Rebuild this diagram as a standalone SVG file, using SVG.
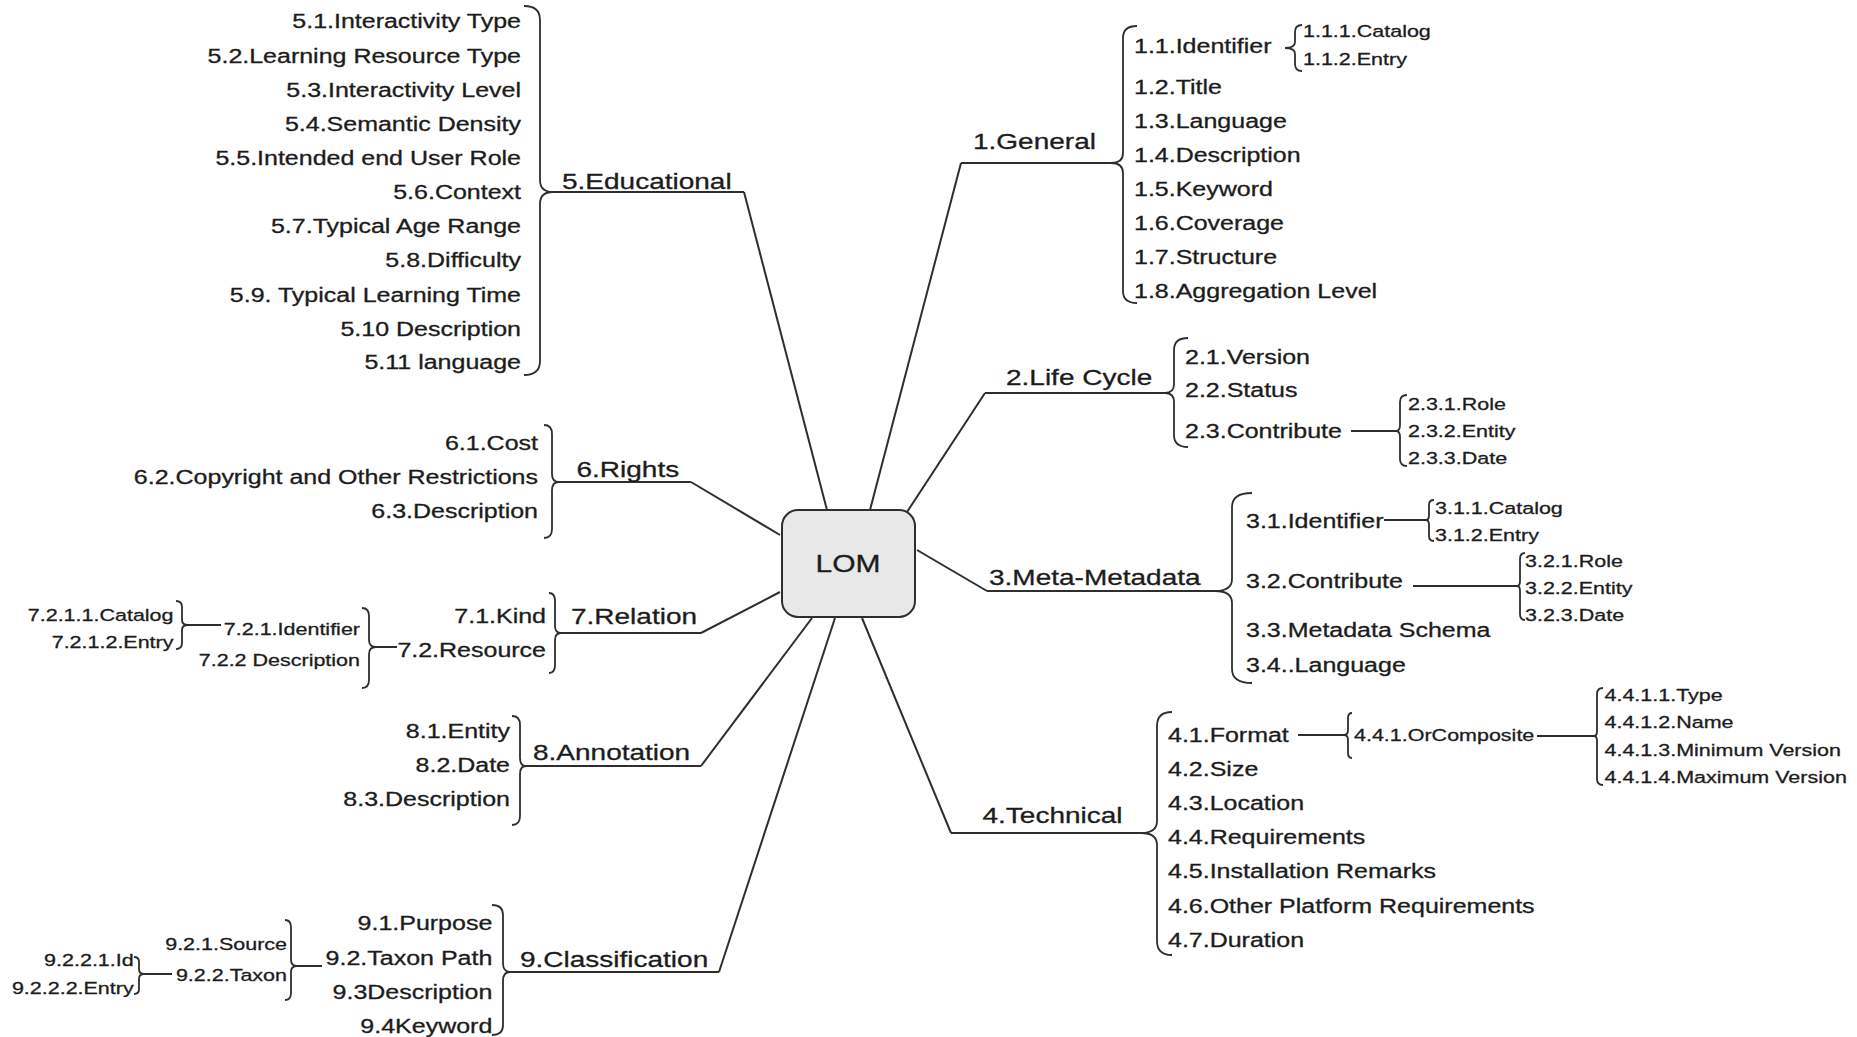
<svg xmlns="http://www.w3.org/2000/svg" width="1857" height="1037" viewBox="0 0 1857 1037">
<style>
text{font-family:"Liberation Sans",Arial,sans-serif;fill:#1c1c1c;stroke:#1c1c1c;stroke-width:0.3px}
.c{font-size:22.4px}
.m{font-size:20px}
.s{font-size:17.2px}
.e{text-anchor:end}
.ln{fill:none;stroke:#2e2e2e;stroke-width:2}
.br{fill:none;stroke:#2e2e2e;stroke-width:1.8}
</style>
<rect width="1857" height="1037" fill="#fff"/>
<g id="connectors" class="ln">
<path d="M744 192 L827 510"/><path d="M553 192 H744"/>
<path d="M961 163 L870 510"/><path d="M961 163 H1111"/>
<path d="M985 393 L907 512"/><path d="M985 393 H1165"/>
<path d="M917 550 L987 591"/><path d="M987 591 H1215"/>
<path d="M862 618 L951 833"/><path d="M951 833 H1141"/>
<path d="M691 482 L780 535"/><path d="M559 482 H691"/>
<path d="M701 633 L780 592"/><path d="M561 633 H701"/>
<path d="M701 766 L812 618"/><path d="M526 766 H701"/>
<path d="M719 972 L835 618"/><path d="M510 972 H719"/>
<path d="M1351 431 H1396"/>
<path d="M1384 520 H1426"/>
<path d="M1413 586 H1517"/>
<path d="M1298 735 H1344"/>
<path d="M1537 736 H1594"/>
<path d="M376 647 H397"/>
<path d="M188 625 H221"/>
<path d="M297 966 H322"/>
<path d="M144 974 H172"/>
</g>
<g id="lom">
<rect x="782" y="510" width="133" height="107" rx="16" fill="#e8e8e8" stroke="#2e2e2e" stroke-width="2"/>
<text style="font-size:24px;text-anchor:middle" transform="matrix(1.25 0 0 1 848 572)">LOM</text>
</g>
<g id="general">
<text class="c" transform="matrix(1.25 0 0 1 973 149)">1.General</text>
<path class="br" d="M1137 26 Q1123 26 1123 38 L1123 153 Q1123 163 1111 163 Q1123 163 1123 173 L1123 291 Q1123 303 1137 303"/>
<text class="m" transform="matrix(1.25 0 0 1 1134 53)">1.1.Identifier</text>
<text class="m" transform="matrix(1.25 0 0 1 1134 94)">1.2.Title</text>
<text class="m" transform="matrix(1.25 0 0 1 1134 128)">1.3.Language</text>
<text class="m" transform="matrix(1.25 0 0 1 1134 162)">1.4.Description</text>
<text class="m" transform="matrix(1.25 0 0 1 1134 196)">1.5.Keyword</text>
<text class="m" transform="matrix(1.25 0 0 1 1134 230)">1.6.Coverage</text>
<text class="m" transform="matrix(1.25 0 0 1 1134 264)">1.7.Structure</text>
<text class="m" transform="matrix(1.25 0 0 1 1134 298)">1.8.Aggregation Level</text>
<path class="br" d="M1302 25 Q1295 25 1295 32 L1295 42 Q1295 48 1285 48 Q1295 48 1295 54 L1295 64 Q1295 71 1302 71"/>
<text class="s" transform="matrix(1.25 0 0 1 1303 37)">1.1.1.Catalog</text>
<text class="s" transform="matrix(1.25 0 0 1 1303 65)">1.1.2.Entry</text>
</g>
<g id="lifecycle">
<text class="c" transform="matrix(1.25 0 0 1 1006 385)">2.Life Cycle</text>
<path class="br" d="M1188 338 Q1174 338 1174 350 L1174 384 Q1174 393 1165 393 Q1174 393 1174 402 L1174 435 Q1174 447 1188 447"/>
<text class="m" transform="matrix(1.25 0 0 1 1185 363.5)">2.1.Version</text>
<text class="m" transform="matrix(1.25 0 0 1 1185 396.7)">2.2.Status</text>
<text class="m" transform="matrix(1.25 0 0 1 1185 438.3)">2.3.Contribute</text>
<path class="br" d="M1407 395 Q1400 395 1400 402 L1400 425 Q1400 431 1396 431 Q1400 431 1400 437 L1400 459 Q1400 466 1407 466"/>
<text class="s" transform="matrix(1.25 0 0 1 1408 410)">2.3.1.Role</text>
<text class="s" transform="matrix(1.25 0 0 1 1408 437.3)">2.3.2.Entity</text>
<text class="s" transform="matrix(1.25 0 0 1 1408 464.3)">2.3.3.Date</text>
</g>
<g id="metametadata">
<text class="c" transform="matrix(1.25 0 0 1 989 585)">3.Meta-Metadata</text>
<path class="br" d="M1252 493 Q1232 493 1232 507 L1232 579 Q1232 591 1215 591 Q1232 591 1232 603 L1232 669 Q1232 683 1252 683"/>
<text class="m" transform="matrix(1.25 0 0 1 1246 528.3)">3.1.Identifier</text>
<text class="m" transform="matrix(1.25 0 0 1 1246 588)">3.2.Contribute</text>
<text class="m" transform="matrix(1.25 0 0 1 1246 637.3)">3.3.Metadata Schema</text>
<text class="m" transform="matrix(1.25 0 0 1 1246 671.7)">3.4..Language</text>
<path class="br" d="M1434 500 Q1429 500 1429 505 L1429 515 Q1429 520 1426 520 Q1429 520 1429 525 L1429 536 Q1429 541 1434 541"/>
<text class="s" transform="matrix(1.25 0 0 1 1435 514)">3.1.1.Catalog</text>
<text class="s" transform="matrix(1.25 0 0 1 1435 540.7)">3.1.2.Entry</text>
<path class="br" d="M1525 553 Q1520 553 1520 559 L1520 581 Q1520 586 1517 586 Q1520 586 1520 591 L1520 614 Q1520 620 1525 620"/>
<text class="s" transform="matrix(1.25 0 0 1 1525 566.7)">3.2.1.Role</text>
<text class="s" transform="matrix(1.25 0 0 1 1525 594)">3.2.2.Entity</text>
<text class="s" transform="matrix(1.25 0 0 1 1525 620.7)">3.2.3.Date</text>
</g>
<g id="technical">
<text class="c" transform="matrix(1.25 0 0 1 982.5 823)">4.Technical</text>
<path class="br" d="M1172 712 Q1157 712 1157 726 L1157 821 Q1157 833 1141 833 Q1157 833 1157 845 L1157 941 Q1157 955 1172 955"/>
<text class="m" transform="matrix(1.25 0 0 1 1168 741.7)">4.1.Format</text>
<text class="m" transform="matrix(1.25 0 0 1 1168 776)">4.2.Size</text>
<text class="m" transform="matrix(1.25 0 0 1 1168 810)">4.3.Location</text>
<text class="m" transform="matrix(1.25 0 0 1 1168 844)">4.4.Requirements</text>
<text class="m" transform="matrix(1.25 0 0 1 1168 878.3)">4.5.Installation Remarks</text>
<text class="m" transform="matrix(1.25 0 0 1 1168 912.7)">4.6.Other Platform Requirements</text>
<text class="m" transform="matrix(1.25 0 0 1 1168 946.7)">4.7.Duration</text>
<path class="br" d="M1352 713 Q1348 713 1348 718 L1348 730 Q1348 735 1344 735 Q1348 735 1348 740 L1348 753 Q1348 758 1352 758"/>
<text class="s" transform="matrix(1.25 0 0 1 1354 740.7)">4.4.1.OrComposite</text>
<path class="br" d="M1603 688 Q1597 688 1597 694 L1597 731 Q1597 736 1594 736 Q1597 736 1597 741 L1597 779 Q1597 785 1603 785"/>
<text class="s" transform="matrix(1.25 0 0 1 1604.5 700.7)">4.4.1.1.Type</text>
<text class="s" transform="matrix(1.25 0 0 1 1604.5 728.3)">4.4.1.2.Name</text>
<text class="s" transform="matrix(1.25 0 0 1 1604.5 756)">4.4.1.3.Minimum Version</text>
<text class="s" transform="matrix(1.25 0 0 1 1604.5 783.3)">4.4.1.4.Maximum Version</text>
</g>
<g id="educational">
<text class="c" transform="matrix(1.25 0 0 1 562 189)">5.Educational</text>
<path class="br" d="M524 6 Q540 6 540 20 L540 180 Q540 192 553 192 Q540 192 540 204 L540 361 Q540 375 524 375"/>
<text class="m e" transform="matrix(1.25 0 0 1 521 28.3)">5.1.Interactivity Type</text>
<text class="m e" transform="matrix(1.25 0 0 1 521 62.7)">5.2.Learning Resource Type</text>
<text class="m e" transform="matrix(1.25 0 0 1 521 96.7)">5.3.Interactivity Level</text>
<text class="m e" transform="matrix(1.25 0 0 1 521 130.7)">5.4.Semantic Density</text>
<text class="m e" transform="matrix(1.25 0 0 1 521 165)">5.5.Intended end User Role</text>
<text class="m e" transform="matrix(1.25 0 0 1 521 199.3)">5.6.Context</text>
<text class="m e" transform="matrix(1.25 0 0 1 521 233.3)">5.7.Typical Age Range</text>
<text class="m e" transform="matrix(1.25 0 0 1 521 267.3)">5.8.Difficulty</text>
<text class="m e" transform="matrix(1.25 0 0 1 521 301.7)">5.9. Typical Learning Time</text>
<text class="m e" transform="matrix(1.25 0 0 1 521 336)">5.10 Description</text>
<text class="m e" transform="matrix(1.25 0 0 1 521 369.3)">5.11 language</text>
</g>
<g id="rights">
<text class="c" transform="matrix(1.25 0 0 1 576.5 477)">6.Rights</text>
<path class="br" d="M544 425 Q552 425 552 434 L552 474 Q552 482 559 482 Q552 482 552 490 L552 529 Q552 538 544 538"/>
<text class="m e" transform="matrix(1.25 0 0 1 538 450)">6.1.Cost</text>
<text class="m e" transform="matrix(1.25 0 0 1 538 484)">6.2.Copyright and Other Restrictions</text>
<text class="m e" transform="matrix(1.25 0 0 1 538 518.3)">6.3.Description</text>
</g>
<g id="relation">
<text class="c" transform="matrix(1.25 0 0 1 571 624)">7.Relation</text>
<path class="br" d="M549 593 Q555 593 555 601 L555 626 Q555 633 561 633 Q555 633 555 640 L555 665 Q555 673 549 673"/>
<text class="m e" transform="matrix(1.25 0 0 1 546 623.3)">7.1.Kind</text>
<text class="m e" transform="matrix(1.25 0 0 1 546 657.3)">7.2.Resource</text>
<path class="br" d="M362 608 Q369 608 369 616 L369 640 Q369 647 376 647 Q369 647 369 654 L369 680 Q369 688 362 688"/>
<text class="s e" transform="matrix(1.25 0 0 1 360 635)">7.2.1.Identifier</text>
<text class="s e" transform="matrix(1.25 0 0 1 360 666)">7.2.2 Description</text>
<path class="br" d="M176 601 Q182 601 182 607 L182 620 Q182 625 188 625 Q182 625 182 630 L182 643 Q182 649 176 649"/>
<text class="s e" transform="matrix(1.25 0 0 1 173.5 621)">7.2.1.1.Catalog</text>
<text class="s e" transform="matrix(1.25 0 0 1 173.5 648)">7.2.1.2.Entry</text>
</g>
<g id="annotation">
<text class="c" transform="matrix(1.25 0 0 1 533 760)">8.Annotation</text>
<path class="br" d="M512 716 Q520 716 520 725 L520 758 Q520 766 526 766 Q520 766 520 774 L520 816 Q520 825 512 825"/>
<text class="m e" transform="matrix(1.25 0 0 1 510 738)">8.1.Entity</text>
<text class="m e" transform="matrix(1.25 0 0 1 510 771.7)">8.2.Date</text>
<text class="m e" transform="matrix(1.25 0 0 1 510 806)">8.3.Description</text>
</g>
<g id="classification">
<text class="c" transform="matrix(1.25 0 0 1 520 966.5)">9.Classification</text>
<path class="br" d="M492 905 Q503 905 503 915 L503 963 Q503 972 510 972 Q503 972 503 981 L503 1025 Q503 1035 492 1035"/>
<text class="m e" transform="matrix(1.25 0 0 1 492.3 930)">9.1.Purpose</text>
<text class="m e" transform="matrix(1.25 0 0 1 492.3 964.5)">9.2.Taxon Path</text>
<text class="m e" transform="matrix(1.25 0 0 1 492.3 999)">9.3Description</text>
<text class="m e" transform="matrix(1.25 0 0 1 492.3 1033)">9.4Keyword</text>
<path class="br" d="M285 920 Q291 920 291 927 L291 960 Q291 966 297 966 Q291 966 291 972 L291 993 Q291 1000 285 1000"/>
<text class="s e" transform="matrix(1.25 0 0 1 287 950)">9.2.1.Source</text>
<text class="s e" transform="matrix(1.25 0 0 1 287 980.5)">9.2.2.Taxon</text>
<path class="br" d="M134 957 Q139 957 139 962 L139 969 Q139 974 144 974 Q139 974 139 979 L139 989 Q139 994 134 994"/>
<text class="s e" transform="matrix(1.25 0 0 1 133.7 966)">9.2.2.1.Id</text>
<text class="s e" transform="matrix(1.25 0 0 1 133.7 994)">9.2.2.2.Entry</text>
</g>
</svg>
